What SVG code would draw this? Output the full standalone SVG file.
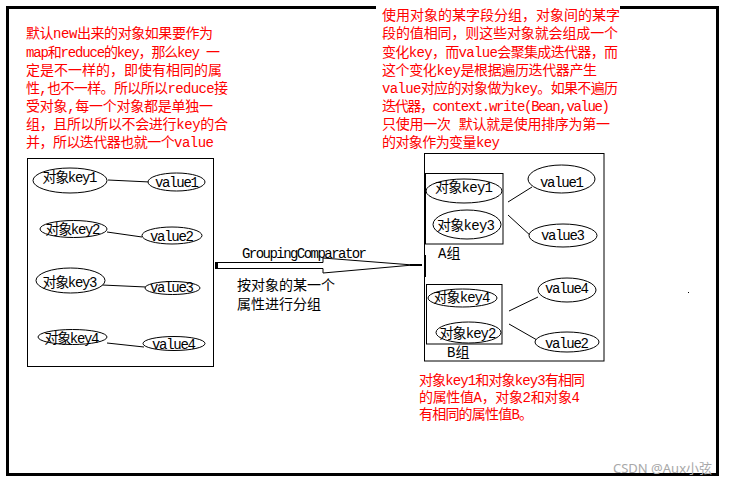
<svg xmlns="http://www.w3.org/2000/svg" width="737" height="485" viewBox="0 0 737 485">
<style>
text{font-family:"Liberation Mono","Noto Sans CJK SC",monospace;font-size:14px;fill:#000}
.red{fill:#ff0000}
.box{fill:none;stroke:#000;stroke-width:1}
.el{fill:#fff;stroke:#000;stroke-width:1}
.ln{stroke:#000;stroke-width:1;fill:none}
.c{text-anchor:middle}
</style>
<rect x="0" y="0" width="737" height="485" fill="#fff"/>
<rect x="7.5" y="7.5" width="710" height="467" fill="none" stroke="#000" stroke-width="3"/>
<rect x="376" y="0" width="244" height="150" fill="#fff"/>

<g id="note-left">
<text class="red" x="26" y="38" textLength="187">默认new出来的对象如果要作为</text>
<text class="red" x="26" y="57" textLength="194">map和reduce的key，那么key 一</text>
<text class="red" x="26" y="75" textLength="196">定是不一样的，即使有相同的属</text>
<text class="red" x="26" y="93" textLength="202">性,也不一样。所以所以reduce接</text>
<text class="red" x="26" y="111" textLength="187">受对象,每一个对象都是单独一</text>
<text class="red" x="26" y="129" textLength="202">组，且所以所以不会进行key的合</text>
<text class="red" x="26" y="147" textLength="188">并，所以迭代器也就一个value</text>
</g>

<g id="note-right">
<text class="red" x="382" y="20" textLength="238">使用对象的某字段分组，对象间的某字</text>
<text class="red" x="382" y="38" textLength="236">段的值相同，则这些对象就会组成一个</text>
<text class="red" x="382" y="57" textLength="236">变化key，而value会聚集成迭代器，而</text>
<text class="red" x="382" y="75" textLength="215">这个变化key是根据遍历迭代器产生</text>
<text class="red" x="382" y="93" textLength="236">value对应的对象做为key。如果不遍历</text>
<text class="red" x="382" y="111" textLength="228">迭代器，context.write(Bean,value)</text>
<text class="red" x="382" y="129" textLength="228">只使用一次 默认就是使用排序为第一</text>
<text class="red" x="382" y="147" textLength="118">的对象作为变量key</text>
</g>

<g id="left-box"><rect class="box" x="27.5" y="158.5" width="186" height="208"/></g>

<g id="connectors">
<line class="ln" x1="108" y1="180" x2="150" y2="182"/>
<line class="ln" x1="107" y1="232" x2="142" y2="237"/>
<line class="ln" x1="102" y1="285" x2="146" y2="287"/>
<line class="ln" x1="107" y1="343" x2="144" y2="347"/>
<line class="ln" x1="508" y1="202" x2="532" y2="187"/>
<line class="ln" x1="508" y1="215" x2="532" y2="237"/>
<line class="ln" x1="509" y1="311" x2="538" y2="297"/>
<line class="ln" x1="509" y1="324" x2="537" y2="340"/>
<polygon points="216,262.5 323,262.5 323,258 413,265 323,273 323,268.5 216,268.5" fill="#fff" stroke="#000" stroke-width="1"/>
<rect x="215" y="262" width="3" height="7" fill="#000"/>
<rect x="410" y="264" width="12" height="2" fill="#000"/>
</g>

<g id="left-key1"><ellipse class="el" cx="70" cy="180.5" rx="37" ry="12.5"/><text class="c" x="70" y="182" textLength="55">对象key1</text></g>
<g id="left-value1"><ellipse class="el" cx="176.5" cy="182" rx="28.5" ry="9"/><text class="c" x="177" y="187" textLength="44">value1</text></g>
<g id="left-key2"><ellipse class="el" cx="73.5" cy="229" rx="33.5" ry="8.5"/><text class="c" x="73" y="234" textLength="55">对象key2</text></g>
<g id="left-value2"><ellipse class="el" cx="172" cy="235.5" rx="30" ry="8.5"/><text class="c" x="172" y="241" textLength="44">value2</text></g>
<g id="left-key3"><ellipse class="el" cx="70.5" cy="280.5" rx="34.5" ry="12.5"/><text class="c" x="70" y="287" textLength="55">对象key3</text></g>
<g id="left-value3"><ellipse class="el" cx="172.5" cy="288" rx="27.5" ry="6.5"/><text class="c" x="172" y="292" textLength="44">value3</text></g>
<g id="left-key4"><ellipse class="el" cx="72.5" cy="337" rx="34.5" ry="7.5"/><text class="c" x="72" y="343" textLength="55">对象key4</text></g>
<g id="left-value4"><ellipse class="el" cx="174" cy="343.5" rx="31" ry="7"/><text class="c" x="174" y="349" textLength="44">value4</text></g>

<g id="arrow-label">
<text x="242" y="258" textLength="125">GroupingComparator</text>
<text x="237" y="290">按对象的某一个</text>
<text x="237" y="309">属性进行分组</text>
</g>

<g id="right-box"><rect class="box" x="424.5" y="153.5" width="179.5" height="207.5"/><rect x="424" y="255" width="2" height="22" fill="#000"/></g>
<g id="group-a"><rect class="box" x="425.5" y="173.5" width="77.5" height="70.5"/><text x="438" y="258">A组</text></g>
<g id="group-b"><rect class="box" x="426.5" y="284.5" width="75.5" height="59.5"/><text x="447" y="357">B组</text></g>

<g id="right-key1"><ellipse class="el" cx="464" cy="191" rx="38" ry="12"/><text class="c" x="464" y="192" textLength="58">对象key1</text></g>
<g id="right-key3"><ellipse class="el" cx="467" cy="224.5" rx="34" ry="14.5"/><text class="c" x="466" y="230" textLength="58">对象key3</text></g>
<g id="right-value1"><ellipse class="el" cx="561.5" cy="179" rx="33.5" ry="14"/><text class="c" x="562" y="187" textLength="44">value1</text></g>
<g id="right-value3"><ellipse class="el" cx="563" cy="235.5" rx="34" ry="11.5"/><text class="c" x="563" y="240" textLength="44">value3</text></g>
<g id="right-key4"><ellipse class="el" cx="462.5" cy="298" rx="34.5" ry="9"/><text class="c" x="462" y="302" textLength="57">对象key4</text></g>
<g id="right-key2"><ellipse class="el" cx="468.5" cy="332.5" rx="32.5" ry="10.5"/><text class="c" x="468" y="338" textLength="57">对象key2</text></g>
<g id="right-value4"><ellipse class="el" cx="567" cy="290" rx="29" ry="12"/><text class="c" x="567" y="293" textLength="44">value4</text></g>
<g id="right-value2"><ellipse class="el" cx="567" cy="342" rx="32" ry="10"/><text class="c" x="567" y="348" textLength="44">value2</text></g>

<g id="note-bottom">
<text class="red" x="419" y="385" textLength="166">对象key1和对象key3有相同</text>
<text class="red" x="419" y="402" textLength="161">的属性值A，对象2和对象4</text>
<text class="red" x="419" y="419" textLength="114">有相同的属性值B。</text>
</g>

<rect x="688" y="292" width="1" height="1" fill="#000"/>
<text x="613" y="473" style="font-family:'Noto Sans','Noto Sans CJK SC',sans-serif;font-size:13px;fill:#a8a8a8">CSDN @Aux小弦</text>
</svg>
